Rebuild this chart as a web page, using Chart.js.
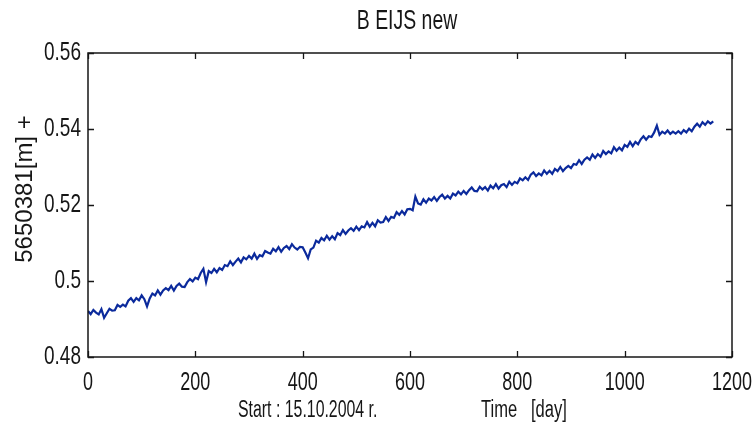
<!DOCTYPE html>
<html>
<head>
<meta charset="utf-8">
<script src="https://cdn.jsdelivr.net/npm/chart.js@4.4.1/dist/chart.umd.min.js"></script>
<style>
  html, body { margin: 0; padding: 0; background: #ffffff; }
  #wrap { width: 756px; height: 435px; }
</style>
</head>
<body>
<div id="wrap"><canvas id="c" width="756" height="435"></canvas></div>
<script>
// Station B EIJS, northing residual (m), sampled every 5 days from the start date
const chartTitle = 'B EIJS new';
const yAxisTitle = '5650381[m] +';
const xAxisStart = 'Start : 15.10.2004 r.';
const xAxisTitle = 'Time   [day]';
const dayStart = 0;
const dayStep = 5;

const xTicks = [0, 200, 400, 600, 800, 1000, 1200];
const yTicks = [0.48, 0.5, 0.52, 0.54, 0.56];

const northing = [
  0.4921, 0.4913, 0.4924, 0.4917, 0.4912, 0.4926, 0.4903, 0.4915, 0.4927, 0.4922,
  0.4923, 0.4937, 0.4932, 0.4938, 0.4933, 0.4948, 0.4955, 0.4945, 0.4955, 0.4949,
  0.4962, 0.4952, 0.4933, 0.4954, 0.4967, 0.4962, 0.4975, 0.4964, 0.4975, 0.4981,
  0.4976, 0.4987, 0.4975, 0.4987, 0.4993, 0.4985, 0.4984, 0.4997, 0.5005, 0.4999,
  0.5009, 0.5005, 0.5021, 0.5032, 0.4997, 0.5026, 0.5021, 0.5032, 0.5023, 0.5034,
  0.5029, 0.5042, 0.5039, 0.5052, 0.5042, 0.5051, 0.5059, 0.5049, 0.5062, 0.5057,
  0.5066, 0.5059, 0.5072, 0.5058, 0.5068, 0.5065, 0.5079, 0.5075, 0.5072, 0.5085,
  0.5078, 0.5089, 0.5077, 0.5087, 0.5092, 0.5084, 0.5097, 0.5088, 0.5083, 0.5090,
  0.5089, 0.5075, 0.5060, 0.5083, 0.5088, 0.5106, 0.5101, 0.5113, 0.5107, 0.5119,
  0.5109, 0.5118, 0.5110, 0.5126, 0.5121, 0.5134, 0.5124, 0.5133, 0.5139, 0.5132,
  0.5143, 0.5134, 0.5144, 0.5141, 0.5155, 0.5143, 0.5153, 0.5144, 0.5160, 0.5154,
  0.5155, 0.5168, 0.5158, 0.5169, 0.5166, 0.5181, 0.5174, 0.5184, 0.5175, 0.5189,
  0.5190, 0.5186, 0.5222, 0.5204, 0.5201, 0.5215, 0.5206, 0.5217, 0.5212, 0.5221,
  0.5211, 0.5221, 0.5227, 0.5217, 0.5224, 0.5217, 0.5230, 0.5225, 0.5235, 0.5228,
  0.5237, 0.5229, 0.5239, 0.5246, 0.5237, 0.5236, 0.5248, 0.5241, 0.5247, 0.5238,
  0.5251, 0.5244, 0.5255, 0.5243, 0.5252, 0.5255, 0.5247, 0.5261, 0.5253, 0.5261,
  0.5257, 0.5270, 0.5265, 0.5273, 0.5266, 0.5280, 0.5286, 0.5276, 0.5283, 0.5278,
  0.5291, 0.5282, 0.5290, 0.5282, 0.5295, 0.5289, 0.5300, 0.5289, 0.5297, 0.5303,
  0.5297, 0.5308, 0.5306, 0.5318, 0.5308, 0.5319, 0.5325, 0.5319, 0.5333, 0.5324,
  0.5334, 0.5327, 0.5342, 0.5334, 0.5341, 0.5336, 0.5352, 0.5343, 0.5351, 0.5344,
  0.5358, 0.5353, 0.5366, 0.5355, 0.5366, 0.5360, 0.5373, 0.5381, 0.5372, 0.5381,
  0.5379, 0.5391, 0.5409, 0.5385, 0.5393, 0.5388, 0.5396, 0.5387, 0.5393, 0.5388,
  0.5394, 0.5388, 0.5397, 0.5391, 0.5401, 0.5394, 0.5406, 0.5414, 0.5406, 0.5418,
  0.5411, 0.5420, 0.5414, 0.5420
];

const days = northing.map((_, i) => dayStart + i * dayStep);
const points = days.map((d, i) => ({ x: d, y: northing[i] }));

const FONT = "'Liberation Sans', Arial, sans-serif";
const INK = '#161616';

// Condensed text: glyphs squeezed horizontally around the anchor point
function narrowText(ctx, text, x, y, size, sx, align) {
  ctx.save();
  ctx.font = size + 'px ' + FONT;
  ctx.fillStyle = INK;
  ctx.textAlign = align;
  ctx.textBaseline = 'middle';
  ctx.translate(x, y);
  ctx.scale(sx, 1);
  ctx.fillText(text, 0, 0);
  ctx.restore();
}

const fmtY = v => String(parseFloat(Number(v).toFixed(2)));

// Box frame, inward tick marks on all four sides, and all labels
const boxFrame = {
  id: 'boxFrame',
  afterDraw(chart) {
    const { ctx, chartArea: a, scales } = chart;
    const len = 6;
    ctx.save();
    ctx.strokeStyle = INK;
    ctx.lineWidth = 1.5;
    ctx.strokeRect(a.left, a.top, a.right - a.left, a.bottom - a.top);
    ctx.lineWidth = 1.3;
    ctx.beginPath();
    xTicks.forEach(v => {
      const px = Math.round(scales.x.getPixelForValue(v)) + 0.5;
      ctx.moveTo(px, a.bottom); ctx.lineTo(px, a.bottom - len);
      ctx.moveTo(px, a.top); ctx.lineTo(px, a.top + len);
    });
    yTicks.forEach(v => {
      const py = Math.round(scales.y.getPixelForValue(v)) + 0.5;
      ctx.moveTo(a.left, py); ctx.lineTo(a.left + len, py);
      ctx.moveTo(a.right, py); ctx.lineTo(a.right - len, py);
    });
    ctx.stroke();
    ctx.restore();

    // tick labels
    yTicks.forEach(v => {
      narrowText(ctx, fmtY(v), a.left - 7, scales.y.getPixelForValue(v), 25, 0.76, 'right');
    });
    xTicks.forEach(v => {
      narrowText(ctx, String(v), scales.x.getPixelForValue(v), a.bottom + 26, 25, 0.72, 'center');
    });

    // title and axis titles
    narrowText(ctx, chartTitle, 407, 22, 27, 0.72, 'center');
    narrowText(ctx, xAxisStart, 238, a.bottom + 54, 23, 0.69, 'left');
    narrowText(ctx, xAxisTitle, 481, a.bottom + 54, 23, 0.72, 'left');

    ctx.save();
    ctx.translate(25, 189);
    ctx.rotate(-Math.PI / 2);
    narrowText(ctx, yAxisTitle, 0, 0, 24, 1, 'center');
    ctx.restore();
  }
};

new Chart(document.getElementById('c'), {
  type: 'line',
  data: {
    datasets: [{
      data: points,
      borderColor: '#0b2a9c',
      borderWidth: 2.2,
      pointRadius: 0,
      tension: 0,
      fill: false
    }]
  },
  options: {
    responsive: false,
    animation: false,
    events: [],
    layout: { padding: { left: 0, right: 24, top: 53, bottom: 0 } },
    plugins: {
      legend: { display: false },
      tooltip: { enabled: false },
      title: { display: false }
    },
    scales: {
      x: {
        type: 'linear',
        min: 0,
        max: 1200,
        afterBuildTicks(scale) { scale.ticks = xTicks.map(v => ({ value: v })); },
        afterFit(scale) { scale.height = 435 - 357; },
        grid: { display: false },
        border: { display: false },
        ticks: { display: false }
      },
      y: {
        type: 'linear',
        min: 0.48,
        max: 0.56,
        afterBuildTicks(scale) { scale.ticks = yTicks.map(v => ({ value: v })); },
        afterFit(scale) { scale.width = 88; },
        grid: { display: false },
        border: { display: false },
        ticks: { display: false }
      }
    }
  },
  plugins: [boxFrame]
});
</script>
</body>
</html>
